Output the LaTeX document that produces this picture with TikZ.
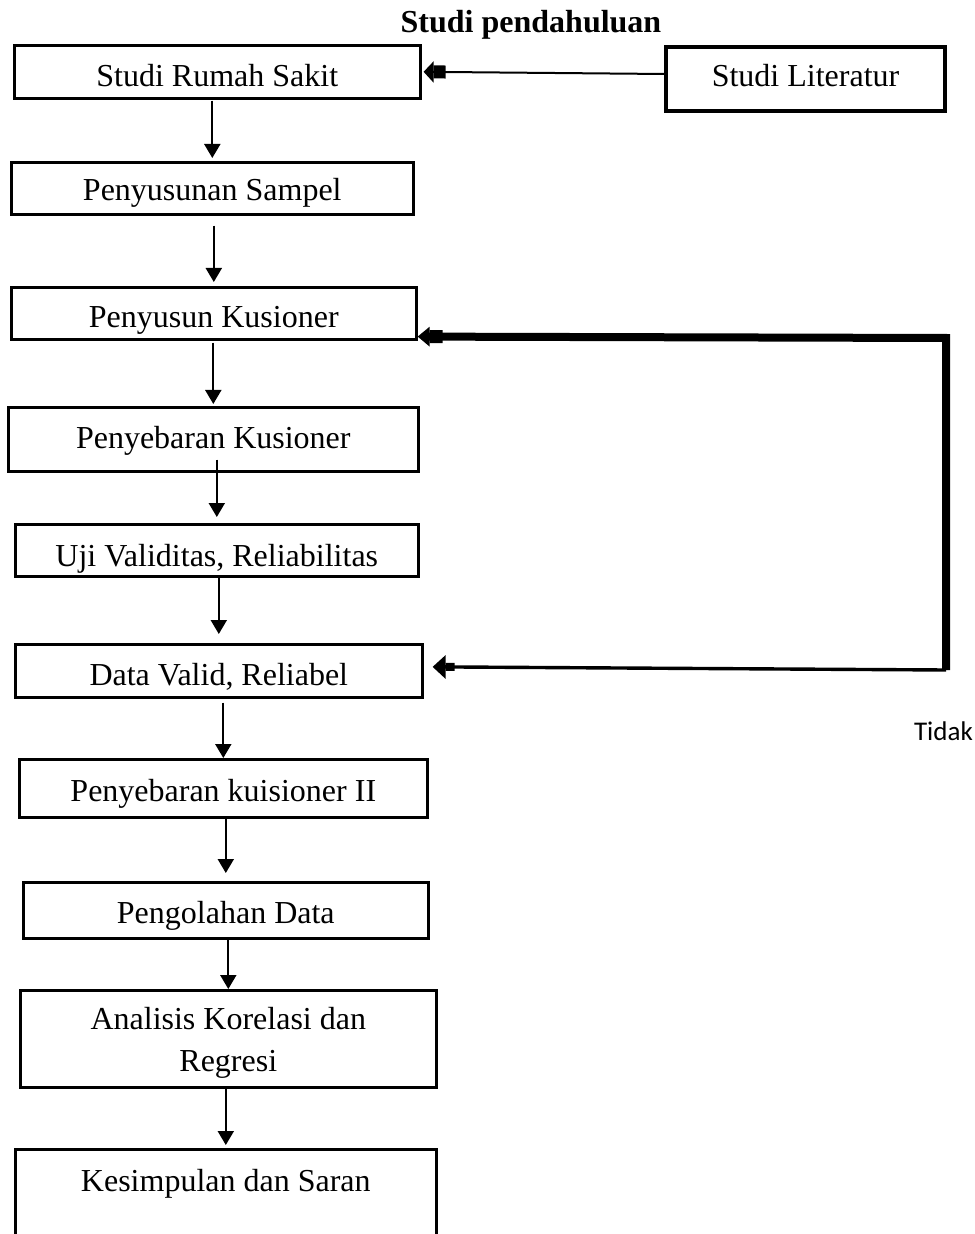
\documentclass[tikz,border=0pt]{standalone}
\usepackage{fontspec}
\setmainfont{Liberation Serif}
\newfontfamily\calfont{Carlito}
\usetikzlibrary{arrows.meta}

\begin{document}
\begin{tikzpicture}[x=0.5pt,y=-0.5pt,
	font=\fontsize{16}{21}\selectfont,
	kotak/.style={draw,line width=1.3pt,inner sep=0pt,anchor=north west},
	tinggi/.style 2 args={text height=#1,text depth=#2},
	panah/.style={line width=1pt,-{Triangle[width=8pt,length=7pt]}}]
	\useasboundingbox (0,0) rectangle (974,1234);

	\node[font=\fontsize{16}{21}\selectfont\bfseries,anchor=base] (judul) at (531,33) {Studi pendahuluan};

	\node[kotak,tinggi={20.5pt}{6pt},minimum width=203pt] (srs) at (13,44) {Studi Rumah Sakit};
	\node[kotak,line width=2pt,tinggi={20pt}{12pt},minimum width=139.5pt] (lit) at (664,45) {Studi Literatur};
	\node[kotak,tinggi={19pt}{7pt},minimum width=201pt] (sampel) at (10,161) {Penyusunan Sampel};
	\node[kotak,tinggi={20pt}{6pt},minimum width=202.5pt] (pk) at (10,286) {Penyusun Kusioner};
	\node[kotak,tinggi={20.5pt}{11.5pt},minimum width=205pt] (peny) at (7,406) {Penyebaran Kusioner};
	\node[kotak,tinggi={21pt}{5pt},minimum width=201.5pt] (uji) at (14,523) {Uji Validitas, Reliabilitas};
	\node[kotak,tinggi={20.5pt}{6pt},minimum width=203.5pt] (dv) at (14,643) {Data Valid, Reliabel};
	\node[kotak,tinggi={21pt}{8pt},minimum width=204pt] (pii) at (18,758) {Penyebaran kuisioner II};
	\node[kotak,tinggi={20.5pt}{7.5pt},minimum width=202.5pt] (peng) at (22,881) {Pengolahan Data};
	\node[kotak,align=center,tinggi={40.5pt}{8pt},minimum width=208pt] (ana) at (19,989) {Analisis Korelasi dan\\Regresi};
	\node[kotak,tinggi={21pt}{35pt},minimum width=210.5pt] (kes) at (14,1148) {Kesimpulan dan Saran};

	\node[font=\calfont\fontsize{13.5}{16}\selectfont,anchor=base west] (tidak) at (907,740) {Tidak};

	\foreach \a/\b/\s/\e in {srs/sampel/0.5pt/1.5pt, sampel/pk/5pt/2pt, pk/peny/1pt/1pt,
		peny/uji/-6.5pt/3pt, uji/dv/0pt/4.5pt, dv/pii/2pt/0pt, pii/peng/0pt/4pt,
		peng/ana/-1pt/0pt, ana/kes/0pt/1.5pt}
		\draw[panah,shorten <=\s,shorten >=\e] (\a.south -| \b.north) -- (\b.north);

	\draw[line width=1pt,-{Rectangle[width=6.5pt,length=6pt]Triangle[width=10.5pt,length=5pt]},shorten >=1pt]
		([yshift=2.5pt]lit.west) -- (srs.east);

	\coordinate (ka) at (946,338);
	\coordinate (kb) at (946,670);
	\draw[line width=4pt,-{Rectangle[width=6.5pt,length=6.5pt]Triangle[width=9.5pt,length=6pt]}]
		(kb) -- (ka) -- ([yshift=2pt]pk.south east);
	\draw[line width=1.7pt,-{Rectangle[width=4pt,length=4.5pt]Triangle[width=11.5pt,length=6.5pt]},shorten >=4.5pt]
		(kb) -- ([yshift=2pt]dv.east);
\end{tikzpicture}
\end{document}
